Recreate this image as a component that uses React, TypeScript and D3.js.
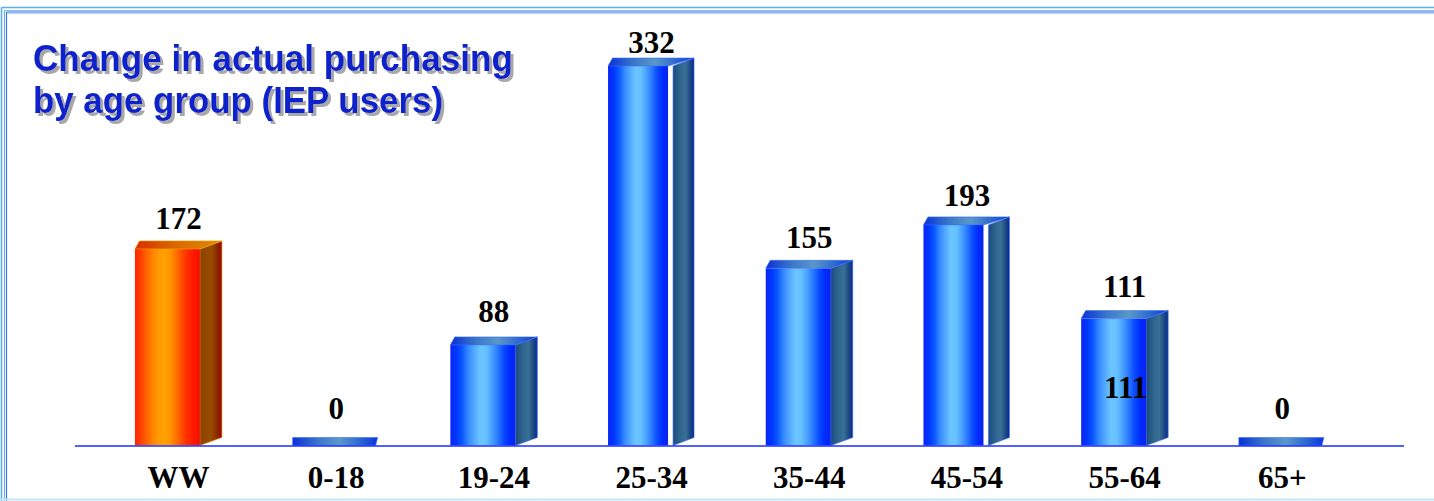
import React from "react";
import * as d3 from "d3";

const categories = ["WW", "0-18", "19-24", "25-34", "35-44", "45-54", "55-64", "65+"];
const values = [172, 0, 88, 332, 155, 193, 111, 0];
const highlight = ["WW"];
const innerLabelCats = ["55-64"];
const titleLines = ["Change in actual purchasing", "by age group (IEP users)"];

const W = 1434;
const H = 501;

export default function App() {
  const x = d3
    .scaleBand<string>()
    .domain(categories)
    .range([75, 1385.8])
    .paddingInner(0.4483)
    .paddingOuter(0.38)
    .align(0.5);
  const y = d3.scaleLinear().domain([0, 332]).range([445.5, 66]);
  const yLabel = d3.scaleLinear().domain([0, 332]).range([419, 53]);

  const bw = x.bandwidth();
  const side = 22;
  const frontW = bw - side;
  const depthY = 8;
  const backLeft = 4.5;
  const base = y(0);

  const blueFront = ["#0a26f8", "#0036ff", "#0a58ff", "#3488ff", "#52a8ff", "#6ac4ff", "#66c2ff", "#4aa2ff", "#2a7aff", "#0a4cff", "#002cff", "#0a22f0"];
  const orangeFront = ["#ff2400", "#ff4000", "#ff6400", "#ff8400", "#ff9a00", "#ffa200", "#ff9400", "#ff7000", "#ff4a00", "#ff2a00", "#ff1800", "#f01000"];

  const stops = (cols: string[]) =>
    cols.map((c, i) => <stop key={i} offset={i / (cols.length - 1)} stopColor={c} />);

  const serif = "'Liberation Serif', 'Times New Roman', serif";

  return (
    <svg
      width={W}
      height={H}
      style={{ position: "fixed", left: 0, top: 0, background: "#fff" }}
      xmlns="http://www.w3.org/2000/svg"
    >
      <defs>
        <linearGradient id="bf" x1="0" x2="1" y1="0" y2="0">{stops(blueFront)}</linearGradient>
        <linearGradient id="of" x1="0" x2="1" y1="0" y2="0">{stops(orangeFront)}</linearGradient>
        <linearGradient id="bs" x1="0" x2="1" y1="0" y2="0">
          <stop offset="0" stopColor="#1a4a7c" />
          <stop offset="0.35" stopColor="#2f6690" />
          <stop offset="0.6" stopColor="#3a7094" />
          <stop offset="0.8" stopColor="#1e4c86" />
          <stop offset="1" stopColor="#0a2a8a" />
        </linearGradient>
        <linearGradient id="os" x1="0" x2="1" y1="0" y2="0">
          <stop offset="0" stopColor="#8a4200" />
          <stop offset="0.5" stopColor="#9a4c00" />
          <stop offset="0.75" stopColor="#8a3000" />
          <stop offset="1" stopColor="#990000" />
        </linearGradient>
        <linearGradient id="bt" x1="0" x2="1" y1="0" y2="0">
          <stop offset="0" stopColor="#0a30d8" />
          <stop offset="0.3" stopColor="#3a78c8" />
          <stop offset="0.55" stopColor="#5a98c8" />
          <stop offset="0.8" stopColor="#2a68d0" />
          <stop offset="1" stopColor="#0a34e0" />
        </linearGradient>
        <linearGradient id="ot" x1="0" x2="1" y1="0" y2="0">
          <stop offset="0" stopColor="#d83000" />
          <stop offset="0.5" stopColor="#d86c00" />
          <stop offset="1" stopColor="#e08a00" />
        </linearGradient>
        <filter id="shadow" x="-5%" y="-20%" width="115%" height="150%">
          <feOffset in="SourceAlpha" dx="2.5" dy="2.5" result="off" />
          <feFlood floodColor="#a8a8a8" />
          <feComposite in2="off" operator="in" result="sh" />
          <feMerge>
            <feMergeNode in="sh" />
            <feMergeNode in="SourceGraphic" />
          </feMerge>
        </filter>
      </defs>

      {/* frame */}
      <line x1={1.5} x2={W} y1={7.5} y2={7.5} stroke="#5ab0f8" strokeWidth={1.6} />
      <line x1={1.5} x2={1.5} y1={7.5} y2={H} stroke="#5ab0f8" strokeWidth={1.6} />
      <line x1={4.5} x2={W} y1={10.5} y2={10.5} stroke="#80c0f8" strokeWidth={1} />
      <line x1={4.5} x2={4.5} y1={10.5} y2={H} stroke="#6aa8ee" strokeWidth={1} />
      <line x1={6.5} x2={W} y1={12} y2={12} stroke="#2a6ad8" strokeWidth={1.2} />
      <line x1={6.5} x2={6.5} y1={12} y2={H} stroke="#3a78dd" strokeWidth={1.2} />
      <line x1={7.5} x2={W} y1={13.3} y2={13.3} stroke="#a8c4ee" strokeWidth={1} />
      <line x1={0} x2={W} y1={499.5} y2={499.5} stroke="#bfe8ff" strokeWidth={2} />

      {/* title */}
      <g filter="url(#shadow)">
        {titleLines.map((t, i) => (
          <text
            key={i}
            x={33}
            y={70.5 + i * 42.5}
            fontFamily="'Liberation Sans', Arial, sans-serif"
            fontWeight="bold"
            fontSize={37.5}
            fill="#0d22cc"
            textLength={i === 0 ? 480 : 410}
            lengthAdjust="spacingAndGlyphs"
          >
            {t}
          </text>
        ))}
      </g>

      {/* bars */}
      {categories.map((c, i) => {
        const v = values[i];
        const x0 = x(c)!;
        const top = y(v);
        const isHi = highlight.includes(c);
        const gap = v > 180 ? 5 : 0;
        const fw = frontW - gap;
        const sx = x0 + fw + gap;
        const sideW = side - (gap > 0 ? 1 : 0);
        const fillF = isHi ? "url(#of)" : "url(#bf)";
        const fillS = isHi ? "url(#os)" : "url(#bs)";
        const fillT = isHi ? "url(#ot)" : "url(#bt)";
        const edge = isHi ? "#ff9a00" : "#3a6cff";
        const topPts =
          v > 0
            ? [
                [x0, top],
                [x0 + backLeft, top - depthY],
                [sx + sideW, top - depthY],
                [x0 + fw, top],
              ]
            : [
                [x0, base],
                [x0, base - depthY],
                [x0 + bw - 2, base - depthY],
                [x0 + bw - 4, base],
              ];
        return (
          <g key={c}>
            {v > 0 && (
              <>
                <polygon
                  points={[
                    [sx, top],
                    [sx + sideW, top - depthY],
                    [sx + sideW, base - depthY],
                    [sx, base],
                  ]
                    .map((p) => p.join(","))
                    .join(" ")}
                  fill={fillS}
                  stroke={edge}
                  strokeWidth={0.6}
                />
                <rect x={x0} y={top} width={fw} height={base - top} fill={fillF} />
              </>
            )}
            <polygon
              points={topPts.map((p) => p.join(",")).join(" ")}
              fill={fillT}
              stroke={edge}
              strokeWidth={0.6}
            />
            <text
              x={x0 + bw / 2}
              y={yLabel(v)}
              textAnchor="middle"
              fontFamily={serif}
              fontWeight="bold"
              fontSize={31}
              fill="#000"
            >
              {v}
            </text>
            {innerLabelCats.includes(c) && (
              <text
                x={x0 + fw / 2 + 12}
                y={y(v / 2) + 16}
                textAnchor="middle"
                fontFamily={serif}
                fontWeight="bold"
                fontSize={31}
                fill="#000"
              >
                {v}
              </text>
            )}
            <text
              x={x0 + bw / 2}
              y={488}
              textAnchor="middle"
              fontFamily={serif}
              fontWeight="bold"
              fontSize={31}
              fill="#000"
            >
              {c}
            </text>
          </g>
        );
      })}

      {/* baseline */}
      <line x1={75} x2={1404} y1={base + 0.5} y2={base + 0.5} stroke="#1a2cff" strokeWidth={1.5} />
    </svg>
  );
}
